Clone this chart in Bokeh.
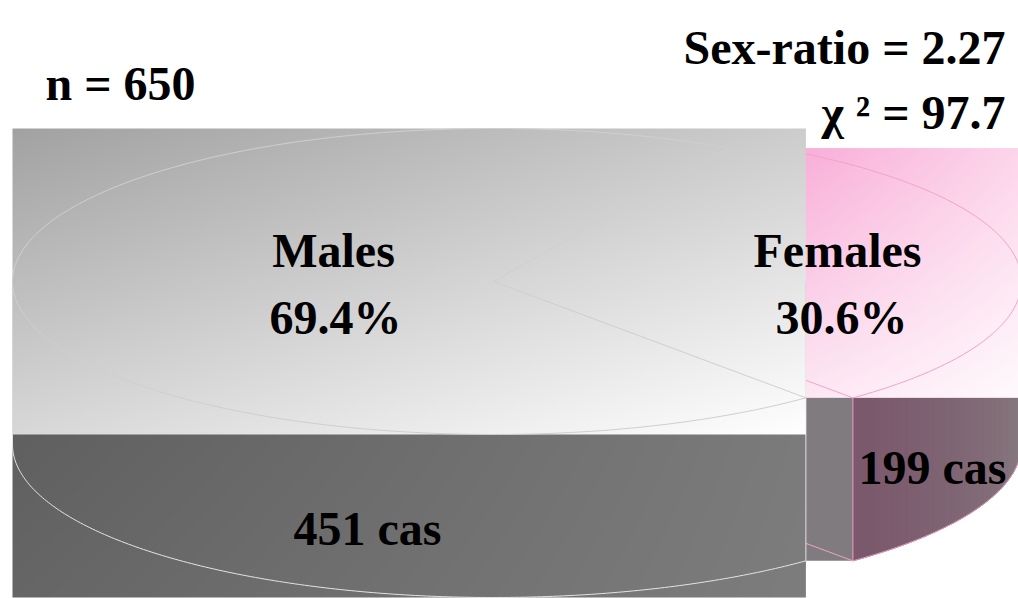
import numpy as np
from bokeh.plotting import figure
from bokeh.models import Range1d
from bokeh.core.properties import value
from bokeh.embed import file_html
from bokeh.resources import INLINE

# ---- data ----
groups = ["Males", "Females"]
cases = [451, 199]
case_suffix = "cas"
female_start_deg = -49.5

total = sum(cases)
shares = [c / total for c in cases]
sex_ratio = cases[0] / cases[1]
expected = total / 2
chi2 = sum((c - expected) ** 2 / expected for c in cases)

# ---- figure in page-pixel coordinates ----
W, H = 1018, 598
p = figure(width=W, height=H, x_range=Range1d(0, W), y_range=Range1d(H, 0),
           output_backend="svg", toolbar_location=None, min_border=0,
           x_axis_type=None, y_axis_type=None)
p.grid.visible = False
p.outline_line_color = None
p.background_fill_color = "white"

cx, cy, a, b, depth, explode = 493.0, 281.0, 481.0, 153.0, 163.0, 47.0


def arc(t0, t1, dx=0.0, dy=0.0, n=200):
    t = np.radians(np.linspace(t0, t1, n))
    return list(cx + dx + a * np.cos(t)), list(cy + dy - b * np.sin(t))


def pt(t, dx=0.0, dy=0.0):
    r = np.radians(t)
    return cx + dx + a * np.cos(r), cy + dy - b * np.sin(r)


def gradient(tl, tr, bl, br, nx, ny):
    u = np.linspace(0, 1, nx)[None, :, None]
    v = np.linspace(0, 1, ny)[:, None, None]
    tl, tr, bl, br = (np.array(c, float)[None, None, :] for c in (tl, tr, bl, br))
    c = (1 - u) * (1 - v) * tl + u * (1 - v) * tr + (1 - u) * v * bl + u * v * br
    img = np.empty((ny, nx, 4), dtype=np.uint8)
    img[:, :, :3] = np.clip(c, 0, 255).astype(np.uint8)
    img[:, :, 3] = 255
    return img.view(dtype=np.uint32).reshape((ny, nx))


def grad_rect(x0, x1, y0, y1, tl, tr, bl, br):
    nx = max(2, int((x1 - x0) / 2))
    ny = max(2, int((y1 - y0) / 2))
    img = gradient(tl, tr, bl, br, nx, ny)
    p.image_rgba(image=[img], x=x0, y=y0, dw=x1 - x0, dh=y1 - y0)


f0 = female_start_deg
f1 = f0 + 360 * shares[1]
m0, m1 = f1, f0 + 360

# ---- female slice (exploded) ----
ftip = (cx + explode, cy)
fcorner = pt(f0, explode)
# cut face (rendered as bounding box)
p.quad(left=ftip[0], right=fcorner[0], top=cy, bottom=fcorner[1] + depth,
       fill_color="#7f7b7e", line_color=None)
# curved side, gradient strips
ts = np.linspace(f0, 0, 60)
xs_s, ys_s, cols = [], [], []
for i in range(len(ts) - 1):
    xa, ya = pt(ts[i], explode)
    xb, yb = pt(ts[i + 1], explode)
    xs_s.append([xa, xb, xb, xa])
    ys_s.append([ya, yb, yb + depth, ya + depth])
    f = i / (len(ts) - 2)
    c0 = np.array([0x7b, 0x58, 0x6c]); c1 = np.array([0x87, 0x7d, 0x81])
    c = (c0 + f * (c1 - c0)).astype(int)
    cols.append("#%02x%02x%02x" % tuple(c))
p.patches(xs_s, ys_s, fill_color=cols, line_color=cols, line_width=1)
# top face bounding box with gradient
fx_arc, fy_arc = arc(f0, f1, explode)
fxs = [ftip[0]] + fx_arc
fys = [ftip[1]] + fy_arc
grad_rect(min(fxs), max(fxs), min(fys), max(fys),
          (0xf4, 0x80, 0xc3), (0xfd, 0xd6, 0xeb), (0xfb, 0xd2, 0xe8), (0xff, 0xfa, 0xfd))
pink = "#f2a2c8"
p.line(fx_arc, fy_arc, line_color=pink, line_width=1)
p.line([ftip[0], fcorner[0]], [ftip[1], fcorner[1]], line_color=pink, line_width=1)
p.line([fcorner[0], fcorner[0]], [fcorner[1], fcorner[1] + depth], line_color=pink, line_width=1)
bx, by = arc(f0, 0, explode, depth)
p.line(bx, by, line_color=pink, line_width=1)
p.line([ftip[0], fcorner[0]], [ftip[1] + depth, fcorner[1] + depth], line_color=pink, line_width=1)

# ---- male slice ----
mtip = (cx, cy)
m_end = pt(m1)
grad_rect(cx - a, m_end[0], cy, cy + b + depth,
          (0x5a, 0x5a, 0x5a), (0x7a, 0x7a, 0x7a), (0x66, 0x66, 0x66), (0x7d, 0x7d, 0x7d))
side = "#e4e4e4"
sx, sy = arc(180, m1, 0, depth)
p.line([cx - a, cx - a] + sx + [m_end[0], m_end[0]],
       [cy, cy + depth] + sy + [m_end[1] + depth, m_end[1]], line_color=side, line_width=1)

mx_arc, my_arc = arc(m0, m1)
mxs = [mtip[0]] + mx_arc
mys = [mtip[1]] + my_arc
grad_rect(min(mxs), max(mxs), min(mys), max(mys),
          (0xa2, 0xa2, 0xa2), (0xcd, 0xcd, 0xcd), (0xd8, 0xd8, 0xd8), (0xff, 0xff, 0xff))
edge = "#cfcfcf"
p.line(mx_arc, my_arc, line_color=edge, line_width=1)
p.line([mx_arc[0], mtip[0], mx_arc[-1]], [my_arc[0], mtip[1], my_arc[-1]], line_color=edge, line_width=1)

# ---- texts ----
font = value("Liberation Serif")


def txt(x, y, s, align="center"):
    p.text(x=[x], y=[y], text=[s], text_font=font, text_font_style="bold",
           text_font_size="48px", text_align=align, text_baseline="alphabetic",
           text_color="black")


txt(333, 250, groups[0])
txt(335, 317, f"{100 * shares[0]:.1f}%")
txt(837, 250, groups[1])
txt(841, 317, f"{100 * shares[1]:.1f}%")
txt(367, 528, f"{cases[0]} {case_suffix}")
txt(932, 467, f"{cases[1]} {case_suffix}")
txt(45, 83, f"n = {total}", align="left")
txt(1005, 47, f"Sex-ratio = {sex_ratio:.2f}", align="right")
txt(1005, 112, f"\u03c7 \u00b2 = {chi2:.1f}", align="right")

open("out.html", "w").write(file_html(p, INLINE))
